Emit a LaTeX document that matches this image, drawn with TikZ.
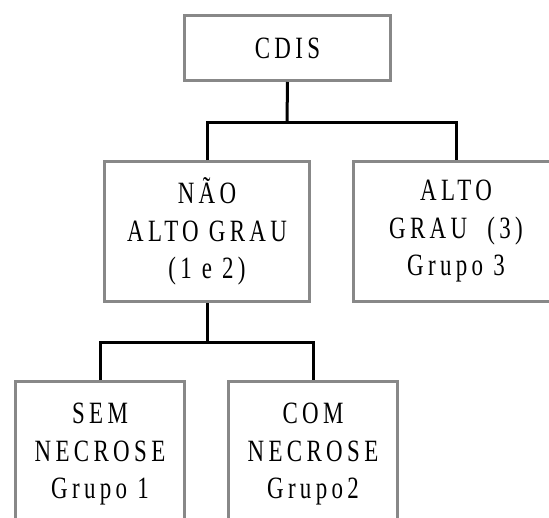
\documentclass[tikz,border=0pt]{standalone}
\usepackage{fontspec}
\setmainfont{Liberation Serif}[FakeStretch=0.74,LetterSpace=14]
\definecolor{borda}{RGB}{136,136,136}

\begin{document}
\begin{tikzpicture}[x=1pt,y=-1pt,
    caixa/.style={draw=borda,line width=3pt,align=center,inner sep=0pt,font=\caixafontsize},
    liga/.style={draw=black,line width=3pt}]
    \providecommand{\caixafontsize}{\fontsize{31pt}{37.5pt}\selectfont}
    \pgfmathsetmacro{\meiowidth}{205}
    \pgfmathsetmacro{\baixowidth}{169}
    \useasboundingbox (0,0) rectangle (549,517);
    \node[caixa,minimum width=206pt,minimum height=65pt](cdis) at (287.5,48){CDIS};
    \node[caixa,minimum width=\meiowidth pt,minimum height=140pt](naoalto) at (207,231.5){NÃO\\ALTO GRAU\\(1 e 2)};
    \node[caixa,minimum width=\meiowidth pt,minimum height=140pt](alto) at (456,231.5){ALTO\\GRAU~~(3)\\Grupo 3};
    \node[caixa,minimum width=\baixowidth pt,minimum height=146pt](sem) at (100,454.5){SEM\\NECROSE\\Grupo 1};
    \node[caixa,minimum width=\baixowidth pt,minimum height=146pt](com) at (313,454.5){COM\\NECROSE\\Grupo2};
    \coordinate (j1) at (287,122);
    \coordinate (j2) at (207,342);
    \draw[liga] (cdis.south) -- (j1);
    \draw[liga] (naoalto.north) |- (j1) -| (alto.north);
    \draw[liga] (naoalto.south) -- (j2);
    \draw[liga] (sem.north) |- (j2) -| (com.north);
    \end{tikzpicture}
\end{document}
